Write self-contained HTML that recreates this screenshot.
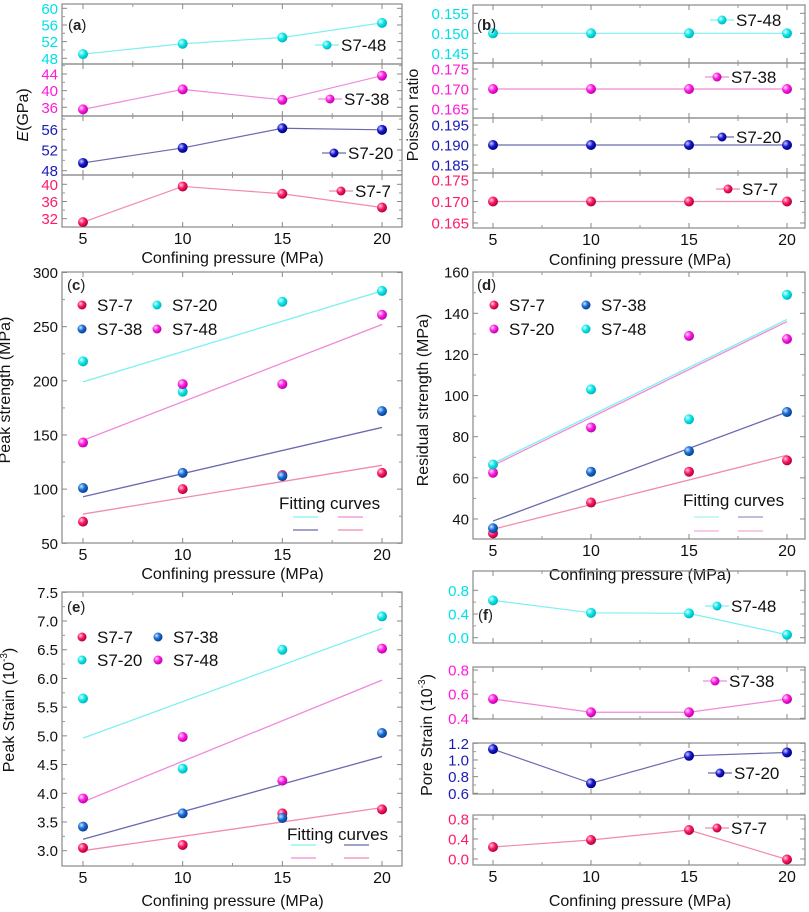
<!DOCTYPE html>
<html><head><meta charset="utf-8"><style>
html,body{margin:0;padding:0;background:#fff}
svg{display:block;font-family:"Liberation Sans",Arial,sans-serif}
</style></head><body>
<svg id="c" width="809" height="912" viewBox="0 0 809 912" xmlns="http://www.w3.org/2000/svg">
<defs>
<radialGradient id="g-cyan" cx="35%" cy="35%" r="65%"><stop offset="0" stop-color="#e0ffff"/><stop offset="0.5" stop-color="#10e8e8"/><stop offset="1" stop-color="#00b5c0"/></radialGradient>
<radialGradient id="g-mag" cx="35%" cy="35%" r="65%"><stop offset="0" stop-color="#ffe0ff"/><stop offset="0.5" stop-color="#ff22e0"/><stop offset="1" stop-color="#c000b0"/></radialGradient>
<radialGradient id="g-navy" cx="35%" cy="35%" r="65%"><stop offset="0" stop-color="#d0d0ff"/><stop offset="0.5" stop-color="#1a1ad0"/><stop offset="1" stop-color="#000080"/></radialGradient>
<radialGradient id="g-red" cx="35%" cy="35%" r="65%"><stop offset="0" stop-color="#ffd0e0"/><stop offset="0.5" stop-color="#ff1a66"/><stop offset="1" stop-color="#b00040"/></radialGradient>
<radialGradient id="g-blue" cx="35%" cy="35%" r="65%"><stop offset="0" stop-color="#d0e4ff"/><stop offset="0.5" stop-color="#1a6fd8"/><stop offset="1" stop-color="#0a3f90"/></radialGradient>
</defs>
</svg>
<script>
// ---- data ----
const pressures=[5,10,15,20];
const xTickLabels=["5","10","15","20"];
// (a) Elastic modulus E (GPa)
const aS748=[49,51.5,53,56.5];
const aS738=[35.5,40.3,37.8,43.6];
const aS720=[49.5,52.4,56.2,55.9];
const aS77=[31.2,39.5,37.8,34.6];
// (b) Poisson ratio
const bS748=[0.150,0.150,0.150,0.150];
const bS738=[0.170,0.170,0.170,0.170];
const bS720=[0.190,0.190,0.190,0.190];
const bS77=[0.170,0.170,0.170,0.170];
// (c) Peak strength (MPa)
const cS77=[70,100,113,115];
const cS738=[101,115,112,172];
const cS720=[218,190,273,283];
const cS748=[143,197,197,261];
const cFitS720=[199,283];
const cFitS748=[145,252];
const cFitS738=[93,157];
const cFitS77=[77,122];
// (d) Residual strength (MPa)
const dS77=[33,48,63,68.5];
const dS738=[35.5,63,73,92];
const dS720=[62.5,84.5,129,127.5];
const dS748=[66.5,103,88.5,149];
const dFitS748=[67,137];
const dFitS720=[66,136];
const dFitS738=[39,92];
const dFitS77=[35,71];
// (e) Peak strain (10^-3)
const eS77=[3.05,3.1,3.65,3.72];
const eS738=[3.42,3.65,3.57,5.05];
const eS720=[5.65,4.43,6.5,7.08];
const eS748=[3.91,4.98,4.22,6.52];
const eFitS720=[4.96,6.87];
const eFitS748=[3.85,5.97];
const eFitS738=[3.2,4.64];
const eFitS77=[3.0,3.75];
// (f) Pore strain (10^-3)
const fS748=[0.63,0.42,0.41,0.05];
const fS738=[0.56,0.45,0.45,0.56];
const fS720=[1.13,0.72,1.05,1.09];
const fS77=[0.24,0.38,0.58,-0.01];

const NS="http://www.w3.org/2000/svg";
const svg=document.getElementById('c');
function el(tag,attrs,parent){const e=document.createElementNS(NS,tag);for(const k in attrs)e.setAttribute(k,attrs[k]);(parent||svg).appendChild(e);return e;}
function txt(s,x,y,size,fill,anchor,parent){const t=el('text',{x:x,y:y,'font-size':size,fill:fill,'text-anchor':anchor||'start'},parent);t.textContent=s;return t;}

const C={cyan:'#00e0e8',mag:'#ff1ad8',navy:'#1a1ab8',red:'#ff1a66',blue:'#1a6fd8'};
const LC={cyan:'#7ff0f0',mag:'#f08ad8',navy:'#6a6ab0',red:'#f08ab0',blue:'#7a7ab8'};
const GR={cyan:'g-cyan',mag:'g-mag',navy:'g-navy',red:'g-red',blue:'g-blue'};

function makeX(x5,x20){return v=>x5+(v-5)*(x20-x5)/15;}
function makeY(t0,y0,t1,y1){return v=>y0+(v-t0)*(y1-y0)/(t1-t0);}

function frame(g,X,x0,x1,top,bot,Y,ticks,minor,fmt,color){
  el('rect',{x:x0,y:top,width:x1-x0,height:bot-top,fill:'none',stroke:'#888','stroke-width':1.2},g);
  pressures.forEach(p=>{const x=X(p);el('line',{x1:x,y1:bot,x2:x,y2:bot-5,stroke:'#888'},g);el('line',{x1:x,y1:top,x2:x,y2:top+5,stroke:'#888'},g);});
  [7.5,12.5,17.5].forEach(p=>{const x=X(p);el('line',{x1:x,y1:bot,x2:x,y2:bot-3,stroke:'#999'},g);el('line',{x1:x,y1:top,x2:x,y2:top+3,stroke:'#999'},g);});
  ticks.forEach(t=>{const y=Y(t);el('line',{x1:x0,y1:y,x2:x0+5,y2:y,stroke:'#888'},g);el('line',{x1:x1,y1:y,x2:x1-5,y2:y,stroke:'#888'},g);
    const l=txt(fmt(t),x0-4,y+5.5,15,color,'end',g);});
  (minor||[]).forEach(t=>{const y=Y(t);if(y>top+1&&y<bot-1){el('line',{x1:x0,y1:y,x2:x0+3,y2:y,stroke:'#999'},g);el('line',{x1:x1,y1:y,x2:x1-3,y2:y,stroke:'#999'},g);}});
}
function xAxis(g,X,bot,ty){
  pressures.forEach((p,i)=>{const l=txt(xTickLabels[i],X(p),bot+17,16,'#111','middle',g);});
  const t=txt('Confining pressure (MPa)',(X(5)+X(20))/2,ty,16,'#111','middle',g);
  
}
function marker(g,x,y,c,r){el('circle',{cx:x,cy:y,r:r||5,fill:'url(#'+GR[c]+')'},g);}
function series(g,X,Y,vals,c,line,name){
  const s=el('g',{},g);
  
  
  if(line){el('polyline',{points:vals.map((v,i)=>X(pressures[i])+','+Y(v)).join(' '),fill:'none',stroke:LC[c],'stroke-width':1.2},s);}
  vals.forEach((v,i)=>{const m=el('circle',{cx:X(pressures[i]),cy:Y(v),r:5,fill:'url(#'+GR[c]+')'},s);
    });
}
function fit(g,X,Y,ends,c,name){
  const l=el('line',{x1:X(5),y1:Y(ends[0]),x2:X(20),y2:Y(ends[1]),stroke:LC[c],'stroke-width':1.3},g);
  
  
}
function legLine(g,x,y,c,label){
  const lg=el('g',{},g);
  
  
  el('line',{x1:x-12,y1:y,x2:x+12,y2:y,stroke:LC[c],'stroke-width':1.2},lg);
  marker(lg,x,y,c,4.5);
  txt(label,x+14,y+6,17,'#111','start',lg);
}
function legDot(g,x,y,c,label){
  const lg=el('g',{},g);
  
  
  marker(lg,x,y,c,4.5);
  txt(label,x+15,y+6,17,'#111','start',lg);
}
function panelLabel(g,s,x,y){const t=txt('(',x,y,15,'#222','start',g);const b=el('tspan',{'font-weight':'bold'},t);b.textContent=s;const e=el('tspan',{},t);e.textContent=')';}
function yTitle(g,s,x,y){const t=txt('',x,y,16,'#111','middle',g);t.setAttribute('transform','rotate(-90 '+x+' '+y+')');t.innerHTML=s;return t;}

// ===== panel a =====
(function(){
 const g=el('g',{});
 const X=makeX(83,382),x0=62,x1=402;
 const subs=[
  {top:4,bot:64,Y:makeY(60,8.3,48,58.3),ticks:[60,56,52,48],minor:[58,54,50],c:'cyan',d:aS748,n:'S7-48',lx:327,ly:45},
  {top:64,bot:116,Y:makeY(44,74,36,107.3),ticks:[44,40,36],minor:[46,42,38,34],c:'mag',d:aS738,n:'S7-38',lx:330,ly:99},
  {top:116,bot:175,Y:makeY(56,129.3,48,170.7),ticks:[56,52,48],minor:[58,54,50],c:'navy',d:aS720,n:'S7-20',lx:334,ly:153},
  {top:175,bot:227,Y:makeY(40,184.3,32,218.7),ticks:[40,36,32],minor:[42,38,34,30],c:'red',d:aS77,n:'S7-7',lx:341,ly:191}];
 subs.forEach(s=>{frame(g,X,x0,x1,s.top,s.bot,s.Y,s.ticks,s.minor,v=>String(v),C[s.c]);series(g,X,s.Y,s.d,s.c,true,'series-'+s.n.toLowerCase());legLine(g,s.lx,s.ly,s.c,s.n);});
 xAxis(g,X,227,263);
 panelLabel(g,'a',68,30);
 yTitle(g,'<tspan font-style="italic">E</tspan>(GPa)',28,115);
})();
// ===== panel b =====
(function(){
 const g=el('g',{});
 const X=makeX(493,787),x0=473,x1=805;
 const f=v=>v.toFixed(3);
 const subs=[
  {top:5,bot:63,Y:makeY(0.155,13.3,0.145,53.3),ticks:[0.155,0.150,0.145],minor:[0.1525,0.1475],c:'cyan',d:bS748,n:'S7-48',lx:722,ly:20},
  {top:63,bot:118,Y:makeY(0.175,69,0.165,109),ticks:[0.175,0.170,0.165],minor:[0.1725,0.1675],c:'mag',d:bS738,n:'S7-38',lx:717,ly:77},
  {top:118,bot:173,Y:makeY(0.195,125,0.185,165),ticks:[0.195,0.190,0.185],minor:[0.1925,0.1875],c:'navy',d:bS720,n:'S7-20',lx:722,ly:137},
  {top:173,bot:228,Y:makeY(0.175,180,0.165,223),ticks:[0.175,0.170,0.165],minor:[0.1725,0.1675],c:'red',d:bS77,n:'S7-7',lx:728,ly:189}];
 subs.forEach(s=>{frame(g,X,x0,x1,s.top,s.bot,s.Y,s.ticks,s.minor,f,C[s.c]);series(g,X,s.Y,s.d,s.c,true,'series-'+s.n.toLowerCase());legLine(g,s.lx,s.ly,s.c,s.n);});
 xAxis(g,X,228,265);
 panelLabel(g,'b',477,30);
 yTitle(g,'Poisson ratio',418,115);
})();
// ===== panel c =====
(function(){
 const g=el('g',{});
 const X=makeX(83,382),x0=62,x1=402,top=272,bot=543;
 const Y=makeY(300,272.5,50,543.3);
 frame(g,X,x0,x1,top,bot,Y,[300,250,200,150,100,50],[275,225,175,125,75],v=>String(v),'#111');
 fit(g,X,Y,cFitS720,'cyan','fit-s7-20');fit(g,X,Y,cFitS748,'mag','fit-s7-48');fit(g,X,Y,cFitS738,'navy','fit-s7-38');fit(g,X,Y,cFitS77,'red','fit-s7-7');
 series(g,X,Y,cS77,'red',false,'series-s7-7');series(g,X,Y,cS738,'blue',false,'series-s7-38');
 series(g,X,Y,cS720,'cyan',false,'series-s7-20');series(g,X,Y,cS748,'mag',false,'series-s7-48');
 legDot(g,82,305,'red','S7-7');legDot(g,157,305,'cyan','S7-20');legDot(g,82,329,'blue','S7-38');legDot(g,157,329,'mag','S7-48');
 const ft=txt('Fitting curves',279,509,17,'#111','start',g);
 [[293,517,'cyan'],[338,517,'mag'],[293,530,'navy'],[338,530,'red']].forEach(a=>el('line',{x1:a[0],y1:a[1],x2:a[0]+25,y2:a[1],stroke:LC[a[2]],'stroke-width':1.3},g));
 xAxis(g,X,543,579);
 panelLabel(g,'c',67,290);
 yTitle(g,'Peak strength (MPa)',10,390);
})();
// ===== panel d =====
(function(){
 const g=el('g',{});
 const X=makeX(493,787),x0=473,x1=805,top=272,bot=539;
 const Y=makeY(140,313.3,40,519);
 frame(g,X,x0,x1,top,bot,Y,[160,140,120,100,80,60,40],[150,130,110,90,70,50],v=>String(v),'#111');
 fit(g,X,Y,dFitS748,'cyan','fit-s7-48');fit(g,X,Y,dFitS720,'mag','fit-s7-20');fit(g,X,Y,dFitS738,'navy','fit-s7-38');fit(g,X,Y,dFitS77,'red','fit-s7-7');
 series(g,X,Y,dS77,'red',false,'series-s7-7');series(g,X,Y,dS738,'blue',false,'series-s7-38');
 series(g,X,Y,dS720,'mag',false,'series-s7-20');series(g,X,Y,dS748,'cyan',false,'series-s7-48');
 legDot(g,494,305,'red','S7-7');legDot(g,586,305,'blue','S7-38');legDot(g,494,329,'mag','S7-20');legDot(g,586,329,'cyan','S7-48');
 const ft=txt('Fitting curves',683,506,17,'#111','start',g);
 [[694,517,'cyan'],[738,517,'navy'],[694,531,'mag'],[738,531,'red']].forEach(a=>el('line',{x1:a[0],y1:a[1],x2:a[0]+25,y2:a[1],stroke:LC[a[2]],'stroke-width':1.3,opacity:0.7},g));
 xAxis(g,X,539,580);
 panelLabel(g,'d',477,290);
 yTitle(g,'Residual strength (MPa)',428,400);
})();
// ===== panel e =====
(function(){
 const g=el('g',{});
 const X=makeX(83,382),x0=62,x1=402,top=592,bot=866;
 const Y=makeY(7.0,621,3.0,850.7);
 frame(g,X,x0,x1,top,bot,Y,[7.5,7.0,6.5,6.0,5.5,5.0,4.5,4.0,3.5,3.0],[7.25,6.75,6.25,5.75,5.25,4.75,4.25,3.75,3.25,2.75],v=>v.toFixed(1),'#111');
 fit(g,X,Y,eFitS720,'cyan','fit-s7-20');fit(g,X,Y,eFitS748,'mag','fit-s7-48');fit(g,X,Y,eFitS738,'navy','fit-s7-38');fit(g,X,Y,eFitS77,'red','fit-s7-7');
 series(g,X,Y,eS77,'red',false,'series-s7-7');series(g,X,Y,eS738,'blue',false,'series-s7-38');
 series(g,X,Y,eS720,'cyan',false,'series-s7-20');series(g,X,Y,eS748,'mag',false,'series-s7-48');
 legDot(g,82,637,'red','S7-7');legDot(g,158,637,'blue','S7-38');legDot(g,82,660,'cyan','S7-20');legDot(g,158,660,'mag','S7-48');
 const ft=txt('Fitting curves',287,840,17,'#111','start',g);
 [[291,845,'cyan'],[344,845,'navy'],[291,858,'mag'],[344,858,'red']].forEach(a=>el('line',{x1:a[0],y1:a[1],x2:a[0]+25,y2:a[1],stroke:LC[a[2]],'stroke-width':1.3},g));
 xAxis(g,X,866,906);
 panelLabel(g,'e',67,612);
 yTitle(g,'Peak Strain (10<tspan dy="-7" font-size="10">-3</tspan><tspan dy="7">)</tspan>',14,710);
})();
// ===== panel f =====
(function(){
 const g=el('g',{});
 const X=makeX(493,787),x0=473,x1=805;
 const f=v=>v.toFixed(1);
 const subs=[
  {top:571,bot:643,Y:makeY(0.8,590.3,0.0,637.7),ticks:[0.8,0.4,0.0],minor:[0.6,0.2],c:'cyan',d:fS748,n:'S7-48',lx:717,ly:606},
  {top:667,bot:719,Y:makeY(0.8,670,0.4,718.3),ticks:[0.8,0.6,0.4],minor:[0.7,0.5],c:'mag',d:fS738,n:'S7-38',lx:715,ly:681},
  {top:743,bot:794,Y:makeY(1.2,743.3,0.6,793.3),ticks:[1.2,1.0,0.8,0.6],minor:[1.1,0.9,0.7],c:'navy',d:fS720,n:'S7-20',lx:720,ly:773},
  {top:815,bot:865,Y:makeY(0.8,819,0.0,859),ticks:[0.8,0.4,0.0],minor:[0.6,0.2],c:'red',d:fS77,n:'S7-7',lx:717,ly:828}];
 subs.forEach(s=>{frame(g,X,x0,x1,s.top,s.bot,s.Y,s.ticks,s.minor,f,C[s.c]);series(g,X,s.Y,s.d,s.c,true,'series-'+s.n.toLowerCase());legLine(g,s.lx,s.ly,s.c,s.n);});
 xAxis(g,X,865,906);
 panelLabel(g,'f',478,620);
 yTitle(g,'Pore Strain (10<tspan dy="-7" font-size="10">-3</tspan><tspan dy="7">)</tspan>',432,735);
})();
</script>
</body></html>
